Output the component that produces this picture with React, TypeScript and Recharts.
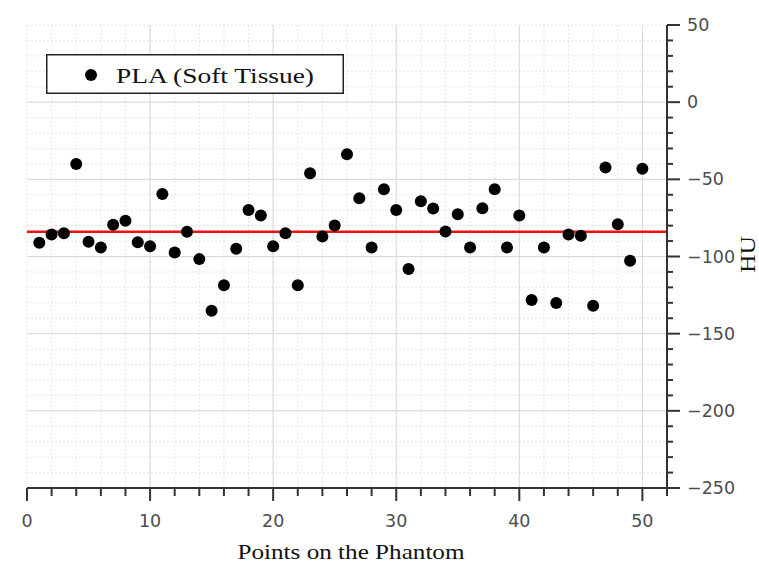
import React from 'react'
import {
  ScatterChart,
  Scatter,
  XAxis,
  YAxis,
  CartesianGrid,
  ReferenceLine,
  Legend,
  Label,
} from 'recharts'

// HU measured at each point on the phantom (points 1..50)
const huValues = [
  -91.1, -85.7, -84.9, -40.1, -90.5, -94.1, -79.5, -76.9, -90.7, -93.3,
  -59.5, -97.4, -84.0, -101.7, -135.1, -118.7, -95.0, -69.8, -73.4, -93.3,
  -84.9, -118.7, -46.1, -87.0, -79.9, -33.8, -62.2, -94.1, -56.4, -69.8,
  -108.1, -64.2, -68.9, -83.8, -72.6, -94.1, -68.7, -56.4, -94.1, -73.4,
  -128.2, -94.1, -130.1, -85.7, -86.6, -131.9, -42.4, -79.1, -102.8, -43.1,
]
const pointIndex = huValues.map((_, i) => i + 1)
const meanHU = -84

const xTicks = [0, 2, 4, 6, 8, 10, 12, 14, 16, 18, 20, 22, 24, 26, 28, 30, 32, 34, 36, 38, 40, 42, 44, 46, 48, 50, 52]
const xMajor = [10, 20, 30, 40, 50]
const yTicks = [
  -250, -240, -230, -220, -210, -200, -190, -180, -170, -160, -150, -140, -130, -120, -110, -100,
  -90, -80, -70, -60, -50, -40, -30, -20, -10, 0, 10, 20, 30, 40, 50,
]
const yMajor = [-200, -150, -100, -50, 0]

const data = pointIndex.map((x, i) => ({ x, y: huValues[i] }))

const AXIS = '#333'
const TICK_TEXT = '#4d4d4d'
const tickFont = { fontFamily: 'DejaVu Sans, sans-serif', fontSize: 17.5, fill: TICK_TEXT }

const fmt = (v: number) => (v < 0 ? `\u2212${Math.abs(v)}` : `${v}`)

const BottomTick = ({ x, y, payload }: any) => {
  const v = payload.value
  const major = v % 10 === 0
  return (
    <g>
      <line x1={x} x2={x} y1={y} y2={y + (major ? 13 : 8)} stroke={AXIS} strokeWidth={2} />
      {major && v <= 50 && (
        <text x={x} y={y + 33} textAnchor="middle" dominantBaseline="central" {...tickFont}>
          {v}
        </text>
      )}
    </g>
  )
}

const TopTick = ({ x, y, payload }: any) => {
  const major = payload.value % 10 === 0
  return <line x1={x} x2={x} y1={y} y2={y - (major ? 13 : 7)} stroke={AXIS} strokeWidth={2} />
}

const RightTick = ({ x, y, payload }: any) => {
  const v = payload.value
  const major = v % 50 === 0
  return (
    <g>
      <line x1={x} x2={x + (major ? 13 : 6)} y1={y} y2={y} stroke={AXIS} strokeWidth={2} />
      {major && (
        <text x={x + 20} y={y} textAnchor="start" dominantBaseline="central" {...tickFont}>
          {fmt(v)}
        </text>
      )}
    </g>
  )
}

const LeftTick = ({ x, y, payload }: any) => {
  const major = payload.value % 50 === 0
  return <line x1={x} x2={x - (major ? 14 : 7)} y1={y} y2={y} stroke={AXIS} strokeWidth={2} />
}

const LegendBox = () => (
  <svg width={298} height={40} style={{ display: 'block' }}>
    <rect x={0.75} y={0.75} width={296.5} height={38.5} fill="#fff" stroke="#222" strokeWidth={1.5} />
    <circle cx={45} cy={21} r={6} fill="#000" />
    <text
      x={70}
      y={29}
      textLength={198}
      lengthAdjust="spacingAndGlyphs"
      fontFamily="Liberation Serif, serif"
      fontSize={22}
      fill="#111"
    >
      PLA (Soft Tissue)
    </text>
  </svg>
)

const XTitle = ({ viewBox }: any) => (
  <text
    x={viewBox.x + viewBox.width / 2 + 4}
    y={viewBox.y + 71}
    textAnchor="middle"
    textLength={227}
    lengthAdjust="spacingAndGlyphs"
    fontFamily="Liberation Serif, serif"
    fontSize={21.5}
    fill="#111"
  >
    Points on the Phantom
  </text>
)

const YTitle = ({ viewBox }: any) => {
  const cx = viewBox.x + 88
  const cy = viewBox.y + viewBox.height / 2 - 2
  return (
    <text
      x={cx}
      y={cy}
      transform={`rotate(-90 ${cx} ${cy})`}
      textAnchor="middle"
      textLength={37}
      lengthAdjust="spacingAndGlyphs"
      fontFamily="Liberation Serif, serif"
      fontSize={22}
      fill="#111"
    >
      HU
    </text>
  )
}

export default function App() {
  return (
    <div style={{ position: 'absolute', left: 0, top: 0, background: '#fff' }}>
      <ScatterChart width={759} height={563} margin={{ top: 25, right: 0, bottom: 0, left: 27 }}>
        <CartesianGrid stroke="#e6e6e6" strokeDasharray="2 2" />
        <XAxis
          dataKey="x"
          type="number"
          domain={[0, 52]}
          ticks={xTicks}
          interval={0}
          allowDataOverflow
          height={75}
          tickSize={0}
          tickMargin={0}
          tickLine={false}
          tick={BottomTick}
          axisLine={{ stroke: AXIS, strokeWidth: 2 }}
        >
          <Label content={XTitle} />
        </XAxis>
        <XAxis
          xAxisId="top"
          orientation="top"
          type="number"
          domain={[0, 52]}
          ticks={xTicks}
          interval={0}
          allowDataOverflow
          height={0}
          tickSize={0}
          tickMargin={0}
          tickLine={false}
          tick={TopTick}
          axisLine={{ stroke: AXIS, strokeWidth: 2 }}
        />
        <YAxis
          dataKey="y"
          type="number"
          orientation="right"
          domain={[-250, 50]}
          ticks={yTicks}
          interval={0}
          allowDataOverflow
          width={92}
          tickSize={0}
          tickMargin={0}
          tickLine={false}
          tick={RightTick}
          axisLine={{ stroke: AXIS, strokeWidth: 2 }}
        >
          <Label content={YTitle} />
        </YAxis>
        <YAxis
          yAxisId="left"
          orientation="left"
          type="number"
          domain={[-250, 50]}
          ticks={yTicks}
          interval={0}
          allowDataOverflow
          width={0}
          tickSize={0}
          tickMargin={0}
          tickLine={false}
          tick={LeftTick}
          axisLine={{ stroke: AXIS, strokeWidth: 2 }}
        />
        {xMajor.map((v) => (
          <ReferenceLine key={`vx${v}`} x={v} stroke="#d9d9d9" strokeWidth={1} />
        ))}
        {yMajor.map((v) => (
          <ReferenceLine key={`hy${v}`} y={v} stroke="#d9d9d9" strokeWidth={1} />
        ))}
        <ReferenceLine y={meanHU} stroke="#ee1111" strokeWidth={2.5} />
        <Scatter
          name="PLA (Soft Tissue)"
          data={data}
          isAnimationActive={false}
          shape={(p: any) => <circle cx={p.cx} cy={p.cy} r={6} fill="#000" />}
        />
        <Legend
          layout="vertical"
          align="center"
          verticalAlign="middle"
          content={LegendBox}
          wrapperStyle={{ left: 46, top: 54, width: 298, height: 40 }}
        />
      </ScatterChart>
    </div>
  )
}
